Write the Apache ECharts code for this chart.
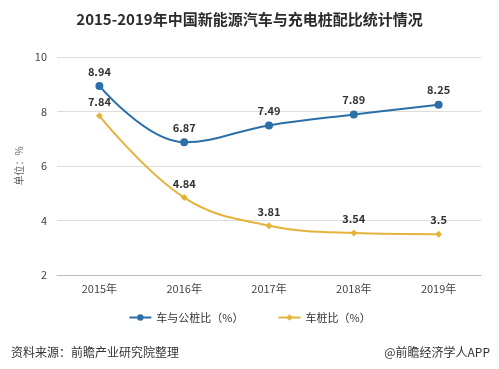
<!DOCTYPE html>
<html><head><meta charset="utf-8">
<script src="https://cdn.jsdelivr.net/npm/echarts@6/dist/echarts.min.js"></script>
<style>html,body{margin:0;padding:0;background:#fff}#c{width:499px;height:369px}</style>
</head><body><div id="c"></div>
<script>
const categories = ['2015年','2016年','2017年','2018年','2019年'];
const carPublicPile = [8.94, 6.87, 7.49, 7.89, 8.25];
const carPile = [7.84, 4.84, 3.81, 3.54, 3.5];
const seriesNames = ['车与公桩比（%）','车桩比（%）'];
const font = '"Noto Sans CJK SC", "Microsoft YaHei", sans-serif';
const chart = echarts.init(document.getElementById('c'));
chart.setOption({
  backgroundColor:'#fff',
  animation:false,
  title:[
    {text:'2015-2019年中国新能源汽车与充电桩配比统计情况', left:'center', top:7,
     textStyle:{fontSize:15, fontWeight:'bold', color:'#2b2b2b', fontFamily:font}},
    {text:'资料来源：前瞻产业研究院整理', left:6, top:341,
     textStyle:{fontSize:12, fontWeight:'normal', color:'#333', fontFamily:font}},
    {text:'@前瞻经济学人APP', right:4, top:341,
     textStyle:{fontSize:12, fontWeight:'normal', color:'#333', fontFamily:font}}
  ],
  grid:{left:57, right:18, top:57, bottom:94},
  legend:{bottom:41, left:'center', itemGap:34, itemWidth:22, itemHeight:8,
    textStyle:{fontSize:11, color:'#333', fontFamily:font},
    data:seriesNames},
  xAxis:{type:'category', data:categories, boundaryGap:true,
    axisLine:{lineStyle:{color:'#bbb'}},
    axisTick:{alignWithLabel:true, length:5, lineStyle:{color:'#bbb'}},
    axisLabel:{fontSize:11, color:'#444', margin:8, fontFamily:font}},
  yAxis:{type:'value', min:2, max:10, interval:2,
    name:'单位：%', nameLocation:'middle', nameGap:27, nameRotate:90,
    nameTextStyle:{fontSize:10, color:'#666', fontFamily:font},
    axisLine:{show:false}, axisTick:{show:false},
    axisLabel:{fontSize:11, color:'#444', margin:10, fontFamily:font},
    splitLine:{lineStyle:{color:'#ddd'}}},
  series:[
    {name:seriesNames[0], type:'line', smooth:0.4, data:carPublicPile,
     symbol:'circle', symbolSize:8,
     itemStyle:{color:'#2a6fa8'}, lineStyle:{width:2, color:'#2a6fa8'},
     label:{show:true, position:'top', fontSize:11, color:'#333', fontWeight:'bold', fontFamily:font}},
    {name:seriesNames[1], type:'line', smooth:0.4, data:carPile,
     symbol:'diamond', symbolSize:7,
     itemStyle:{color:'#e3b33a'}, lineStyle:{width:2, color:'#e3b33a'},
     label:{show:true, position:'top', fontSize:11, color:'#333', fontWeight:'bold', fontFamily:font}}
  ]
});
</script></body></html>
